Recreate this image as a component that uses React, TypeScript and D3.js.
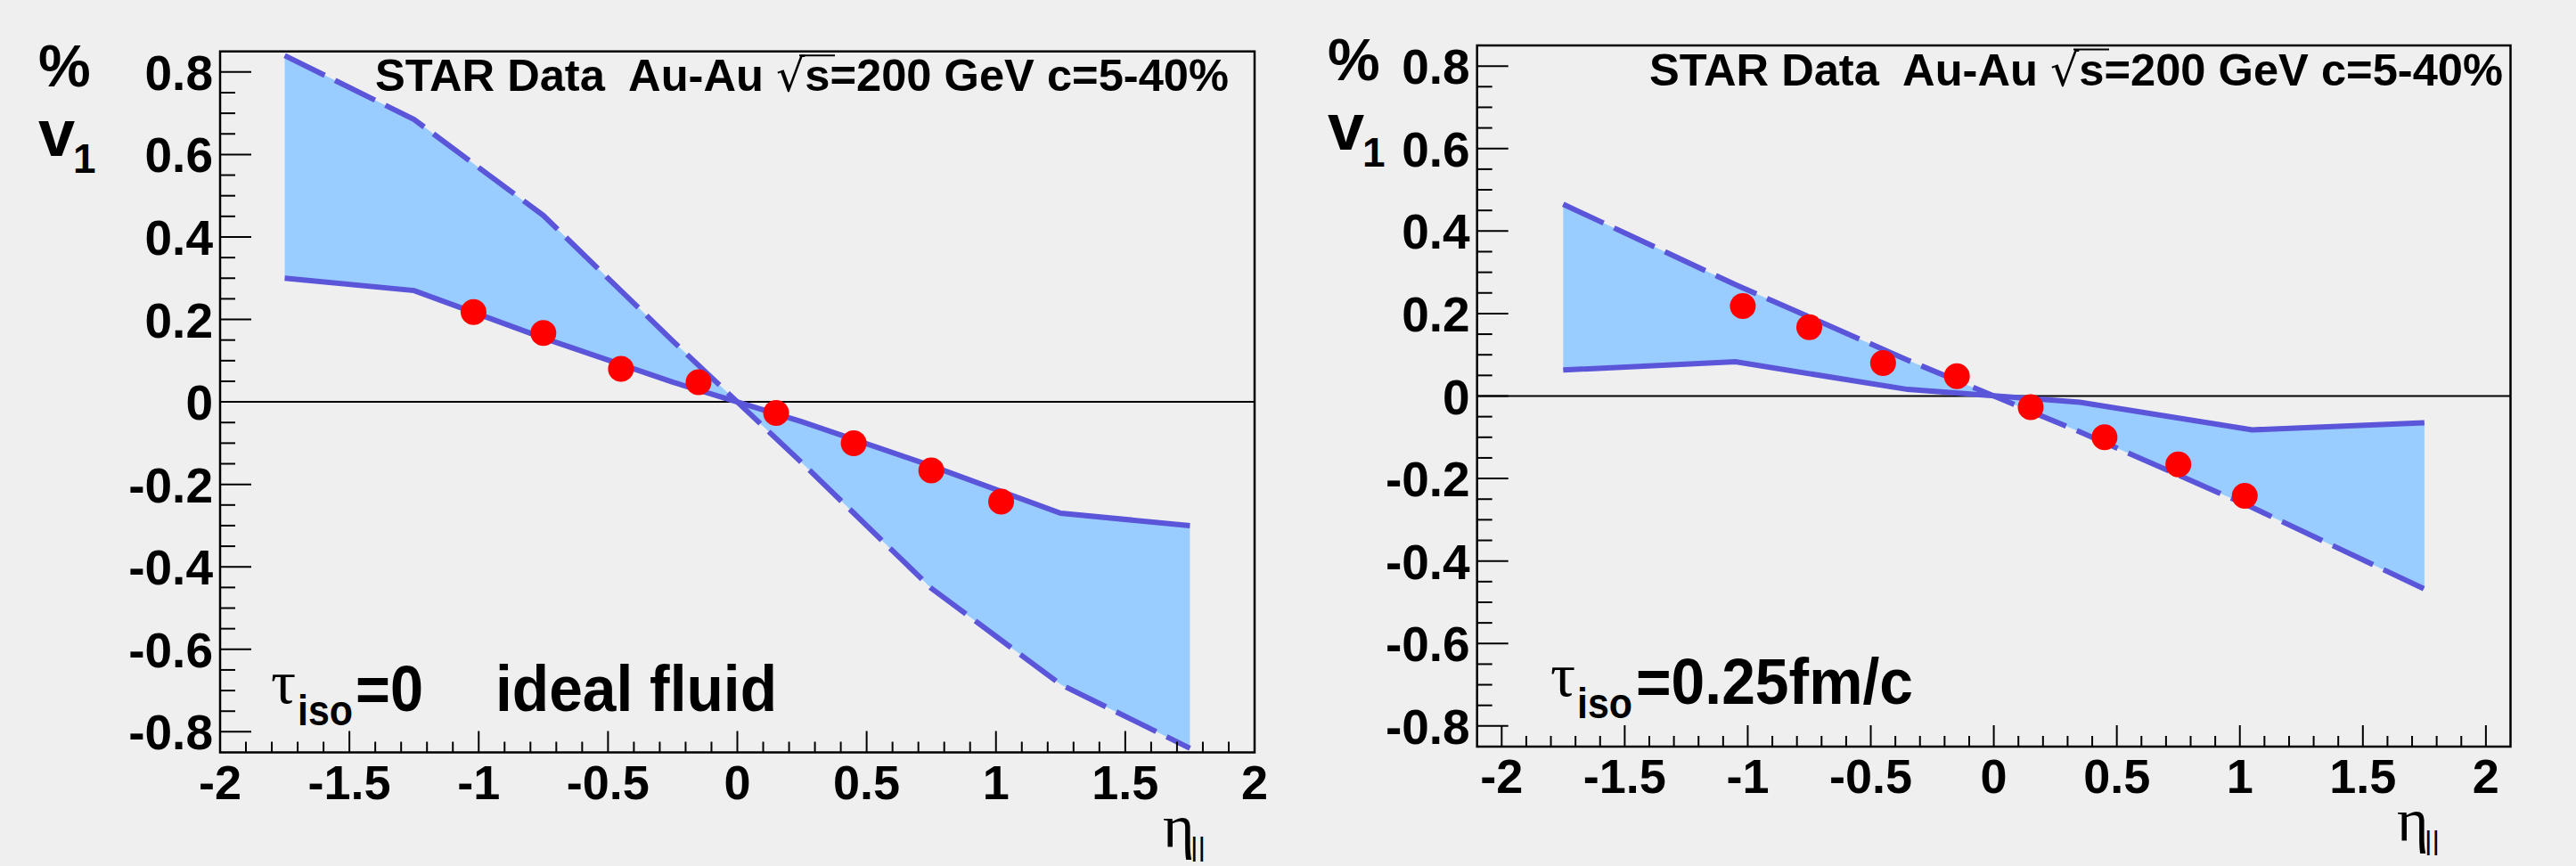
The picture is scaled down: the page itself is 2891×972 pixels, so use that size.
import React from 'react';
import * as d3 from 'd3';

// STAR v1 points, same in both panels
const etaData = [-1.02, -0.75, -0.45, -0.15, 0.15, 0.45, 0.75, 1.02];
const v1Data = [0.218, 0.167, 0.08, 0.048, -0.027, -0.1, -0.166, -0.242];

// hydro band, tau_iso = 0 (ideal fluid)
const idealEtaUpper = [-1.75, -1.25, -0.75, -0.25, 0.25, 0.75, 1.25, 1.75];
const idealUpper = [0.84, 0.685, 0.452, 0.148, -0.148, -0.452, -0.685, -0.84];
const idealEtaLower = [-1.75, -1.25, -0.75, -0.25, 0.25, 0.75, 1.25, 1.75];
const idealLower = [0.3, 0.27, 0.155, 0.048, -0.048, -0.155, -0.27, -0.3];

// hydro band, tau_iso = 0.25 fm/c
const viscEtaUpper = [-1.75, -1.05, -0.35, 0.35, 1.05, 1.75];
const viscUpper = [0.465, 0.27, 0.087, -0.087, -0.27, -0.468];
const viscEtaLower = [-1.75, -1.05, -0.35, 0.35, 1.05, 1.75];
const viscLower = [0.063, 0.083, 0.016, -0.015, -0.082, -0.065];

const xTickLabels = [-2, -1.5, -1, -0.5, 0, 0.5, 1, 1.5, 2];
const yTickLabels = [-0.8, -0.6, -0.4, -0.2, 0, 0.2, 0.4, 0.6, 0.8];

const BG = '#efefef';
const LINE = '#5a55d9';
const FILL = '#99ccff';
const FONT = '"Liberation Sans", Arial, Helvetica, sans-serif';
const SERIF = '"Liberation Serif", "DejaVu Serif", serif';

const zip = (xs, ys) => xs.map((x, i) => [x, ys[i]]);

const Panel = ({ frame, xDomain, upper, lower, label, starEnd, pctX, etaX }) => {
  const { left, right, top, bottom } = frame;
  const x = d3.scaleLinear().domain(xDomain).range([left, right]);
  const y = d3.scaleLinear().domain([-0.85, 0.85]).range([bottom, top]);

  const line = d3.line().x(d => x(d[0])).y(d => y(d[1]));
  const band = line(upper.concat(lower.slice().reverse())) + 'Z';

  const eps = 1e-6;
  const xMinor = d3.range(-2.1, 2.1001, 0.1)
    .map(v => Math.round(v * 10) / 10)
    .filter(v => v > xDomain[0] + eps && v < xDomain[1] - eps);
  const yMinor = d3.range(-0.8, 0.8001, 0.05).map(v => Math.round(v * 100) / 100);

  return (
    <g>
      {/* band between the two model curves */}
      <path d={band} fill={FILL} stroke="none" />
      <line x1={left} x2={right} y1={y(0)} y2={y(0)} stroke="#000" strokeWidth={2} />
      <path d={line(upper)} fill="none" stroke={LINE} strokeWidth={6} strokeDasharray="50 13" />
      <path d={line(lower)} fill="none" stroke={LINE} strokeWidth={6} />
      {etaData.map((e, i) => (
        <circle key={i} cx={x(e)} cy={y(v1Data[i])} r={14.5} fill="#ff0000" />
      ))}

      {/* frame */}
      <rect x={left} y={top} width={right - left} height={bottom - top} fill="none" stroke="#000" strokeWidth={2.5} />

      {/* y ticks */}
      {yMinor.map((v, i) => {
        const major = yTickLabels.some(t => Math.abs(t - v) < eps);
        return <line key={'ym' + i} x1={left} x2={left + (major ? 35 : 17)} y1={y(v)} y2={y(v)} stroke="#000" strokeWidth={2} />;
      })}
      {yTickLabels.map(v => (
        <text key={'yl' + v} x={left - 8} y={y(v) + 20} textAnchor="end" fontFamily={FONT} fontWeight="bold" fontSize={55}>
          {String(v)}
        </text>
      ))}

      {/* x ticks */}
      {xMinor.map((v, i) => {
        const major = xTickLabels.some(t => Math.abs(t - v) < eps);
        return <line key={'xm' + i} x1={x(v)} x2={x(v)} y1={bottom} y2={bottom - (major ? 24 : 12)} stroke="#000" strokeWidth={2} />;
      })}
      {xTickLabels.map(v => (
        <text key={'xl' + v} x={x(v)} y={bottom + 52} textAnchor="middle" fontFamily={FONT} fontWeight="bold" fontSize={54}>
          {String(v)}
        </text>
      ))}

      {/* header */}
      <text x={starEnd} y={top + 44.5} textAnchor="end" fontFamily={FONT} fontWeight="bold" fontSize={50}
        xmlSpace="preserve" style={{ whiteSpace: 'pre' }} textLength={958} lengthAdjust="spacingAndGlyphs">
        {'STAR Data  Au-Au '}<tspan fontWeight="normal" fontFamily={'"DejaVu Sans", sans-serif'}>{'\u221A'}</tspan>s=200 GeV c=5-40%
      </text>
      <line x1={starEnd - 482} x2={starEnd - 442} y1={top + 4.5} y2={top + 4.5} stroke="#000" strokeWidth={2} />

      {/* y title */}
      <text x={pctX} y={top + 39} fontFamily={FONT} fontWeight="bold" fontSize={66}>%</text>
      <text x={pctX} y={top + 117} fontFamily={FONT} fontWeight="bold" fontSize={74}>v</text>
      <text x={pctX + 39} y={top + 136} fontFamily={FONT} fontWeight="bold" fontSize={46}>1</text>

      {/* x title */}
      <text x={etaX} y={top + 893} fontFamily={SERIF} fontSize={68}>{'\u03B7'}</text>
      <text x={etaX + 31} y={top + 903} fontFamily={FONT} fontSize={30} textLength={17} lengthAdjust="spacingAndGlyphs">||</text>

      {/* model label */}
      {label}
    </g>
  );
};

export default function App() {
  const leftFrame = { left: 247, right: 1408, top: 57.7, bottom: 844.5 };
  const rightFrame = { left: 1657.7, right: 2817.5, top: 51, bottom: 838 };

  const tau = (x0, base) => [
    <text key="t" x={x0} y={base - 9} fontFamily={SERIF} fontSize={70}>{'\u03C4'}</text>,
    <text key="i" x={x0 + 30} y={base + 16} fontFamily={FONT} fontWeight="bold" fontSize={48} textLength={62} lengthAdjust="spacingAndGlyphs">iso</text>,
  ];

  const leftLabel = (
    <g>
      {tau(304, 798)}
      <text x={399} y={798} fontFamily={FONT} fontWeight="bold" fontSize={72} textLength={76} lengthAdjust="spacingAndGlyphs">=0</text>
      <text x={556} y={798} fontFamily={FONT} fontWeight="bold" fontSize={72} textLength={316} lengthAdjust="spacingAndGlyphs">ideal fluid</text>
    </g>
  );
  const rightLabel = (
    <g>
      {tau(1740, 790)}
      <text x={1836} y={790} fontFamily={FONT} fontWeight="bold" fontSize={72} textLength={311} lengthAdjust="spacingAndGlyphs">=0.25fm/c</text>
    </g>
  );

  return (
    <svg width={2891} height={972} style={{ position: 'absolute', left: 0, top: 0, background: BG }}>
      <rect x={0} y={0} width={2891} height={972} fill={BG} />
      <Panel
        frame={leftFrame}
        xDomain={[-2, 2]}
        upper={zip(idealEtaUpper, idealUpper)}
        lower={zip(idealEtaLower, idealLower)}
        label={leftLabel}
        starEnd={1379}
        pctX={43}
        etaX={1305}
      />
      <Panel
        frame={rightFrame}
        xDomain={[-2.1, 2.1]}
        upper={zip(viscEtaUpper, viscUpper)}
        lower={zip(viscEtaLower, viscLower)}
        label={rightLabel}
        starEnd={2809}
        pctX={1490}
        etaX={2690}
      />
    </svg>
  );
}
